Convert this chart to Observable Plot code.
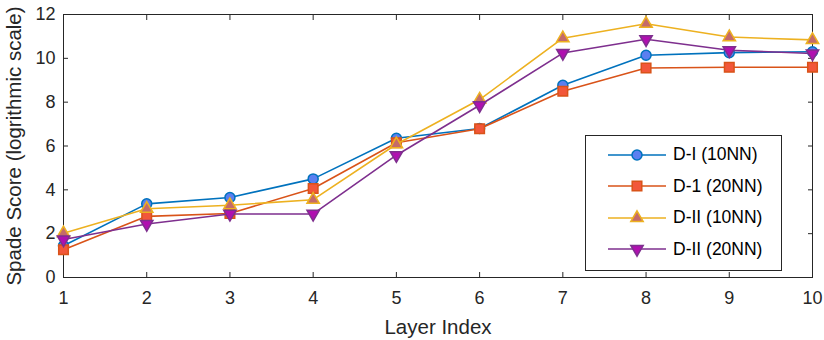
<!DOCTYPE html>
<html><head><meta charset="utf-8">
<script src="https://cdn.jsdelivr.net/npm/d3@7"></script>
<script src="https://cdn.jsdelivr.net/npm/@observablehq/plot@0.6"></script>
<style>
body{margin:0;background:#fff;font-family:"Liberation Sans",Arial,Helvetica,sans-serif;}
#wrap{position:relative;width:824px;height:340px;}
#legend{position:absolute;left:585px;top:135px;width:197px;height:136px;border:1px solid #262626;background:#fff;box-sizing:border-box;padding-top:3px;}
.row{display:flex;align-items:center;height:31.5px;}
.row svg{margin-left:21px;}
.row span{margin-left:6px;font-size:17.5px;color:#000;}
</style>
</head><body>
<div id="wrap"><div id="chart"></div><div id="legend"></div></div>
<script>
const layers = [1, 2, 3, 4, 5, 6, 7, 8, 9, 10];
const dI_10NN  = [1.45, 3.36, 3.65, 4.50, 6.35, 6.80, 8.77, 10.14, 10.26, 10.30];
const d1_20NN  = [1.27, 2.79, 2.92, 4.06, 6.15, 6.79, 8.50, 9.56, 9.59, 9.59];
const dII_10NN = [2.02, 3.14, 3.30, 3.55, 6.08, 8.12, 10.92, 11.58, 10.97, 10.84];
const dII_20NN = [1.73, 2.44, 2.90, 2.90, 5.58, 7.86, 10.24, 10.87, 10.37, 10.22];
const seriesNames = ["D-I (10NN)", "D-1 (20NN)", "D-II (10NN)", "D-II (20NN)"];
const seriesValues = [dI_10NN, d1_20NN, dII_10NN, dII_20NN];
const xTicks = [1, 2, 3, 4, 5, 6, 7, 8, 9, 10];
const yTicks = [0, 2, 4, 6, 8, 10, 12];
const xLabel = "Layer Index";
const yLabel = "Spade Score (logrithmic scale)";

// styles
const lineColors = ["#0072BD", "#D95319", "#EDB120", "#7E2F8E"];
const faceColors = ["#5B7FF0", "#F2573A", "#C46A6A", "#B00FB0"];
const symbols = ["circle", "square", "triangle", "triangle"];
const rotations = [0, 0, 0, 180];
const radii = [5, 5.4, 4.6, 4.6];

const table = [];
seriesValues.forEach((vals, i) => vals.forEach((v, j) => table.push({series: seriesNames[i], idx: i, layer: layers[j], value: v})));

const ink = "#262626";
const marks = [
  Plot.axisX({anchor: "bottom", ticks: xTicks, tickSize: -5, tickFormat: () => "", label: null, stroke: ink}),
  Plot.axisX({anchor: "top", ticks: xTicks, tickSize: -5, tickFormat: () => "", label: null, stroke: ink}),
  Plot.axisY({anchor: "left", ticks: yTicks, tickSize: -5, tickFormat: () => "", label: null, stroke: ink}),
  Plot.axisY({anchor: "right", ticks: yTicks, tickSize: -5, tickFormat: () => "", label: null, stroke: ink}),
  Plot.axisX({anchor: "bottom", ticks: xTicks, tickSize: 0, tickPadding: 14, tickFormat: "d", fontSize: 18, fill: ink, label: null}),
  Plot.axisY({anchor: "left", ticks: yTicks, tickSize: 0, tickPadding: 8, tickFormat: "d", fontSize: 18, fill: ink, label: null}),
  Plot.axisX({anchor: "bottom", ticks: [], tickSize: 0, label: xLabel, labelAnchor: "center", labelArrow: "none", labelOffset: 56, fontSize: 20.5, fill: ink}),
  Plot.axisY({anchor: "left", ticks: [], tickSize: 0, label: yLabel, labelAnchor: "center", labelArrow: "none", labelOffset: 57, fontSize: 20.5, fill: ink}),
  Plot.frame({stroke: ink, strokeWidth: 1})
];
seriesNames.forEach((name, i) => {
  const d = table.filter(r => r.idx === i);
  marks.push(Plot.line(d, {x: "layer", y: "value", stroke: lineColors[i], strokeWidth: 1.6}));
  marks.push(Plot.dot(d, {x: "layer", y: "value", symbol: () => symbols[i], r: radii[i], rotate: rotations[i], fill: faceColors[i], stroke: lineColors[i], strokeWidth: 1.5}));
});

const chart = Plot.plot({
  width: 824, height: 340,
  marginLeft: 63, marginRight: 12, marginTop: 14, marginBottom: 63,
  style: {fontFamily: '"Liberation Sans", Arial, sans-serif', background: "#fff", overflow: "visible"},
  x: {domain: [1, 10]},
  y: {domain: [0, 12]},
  symbol: {type: "identity"},
  marks
});
document.getElementById("chart").appendChild(chart);

// legend
const legend = d3.select("#legend");
seriesNames.forEach((name, i) => {
  const row = legend.append("div").attr("class", "row");
  const svg = row.append("svg").attr("width", 60).attr("height", 24);
  svg.append("line").attr("x1", 1).attr("x2", 59).attr("y1", 12).attr("y2", 12).attr("stroke", lineColors[i]).attr("stroke-width", 1.6);
  const sym = {circle: d3.symbolCircle, square: d3.symbolSquare, triangle: d3.symbolTriangle}[symbols[i]];
  svg.append("path").attr("d", d3.symbol(sym, Math.PI * radii[i] * radii[i])())
    .attr("transform", `translate(30,12) rotate(${rotations[i]})`)
    .attr("fill", faceColors[i]).attr("stroke", lineColors[i]).attr("stroke-width", 1.5);
  row.append("span").text(name);
});
</script>
</body></html>
